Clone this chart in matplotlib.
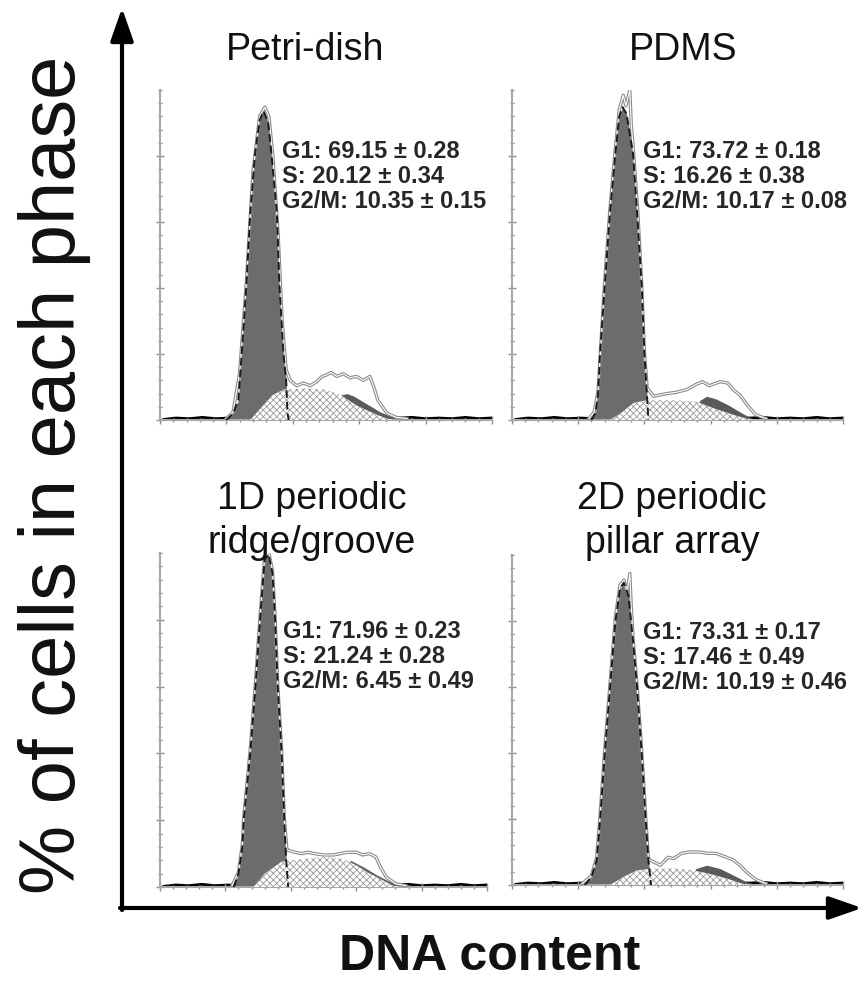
import numpy as np
import matplotlib
matplotlib.use('Agg')
import matplotlib.pyplot as plt

plt.rcParams['font.family'] = ['Liberation Sans', 'DejaVu Sans']
plt.rcParams['hatch.linewidth'] = 0.6

W, H = 864, 991

titles = ['Petri-dish', 'PDMS', '1D periodic\nridge/groove', '2D periodic\npillar array']
g1_txt = ['69.15', '73.72', '71.96', '73.31']
g1_err = ['0.28', '0.18', '0.23', '0.17']
s_txt = ['20.12', '16.26', '21.24', '17.46']
s_err = ['0.34', '0.38', '0.28', '0.49']
g2_txt = ['10.35', '10.17', '6.45', '10.19']
g2_err = ['0.15', '0.08', '0.49', '0.46']

# G1 peak (dark fill), one list per panel
g1_x = [
    [50, 55, 59, 61.5, 65, 68, 71.5, 75, 78, 81.5, 84, 88, 90, 93, 95, 96, 97],
    [60, 63, 65, 66.5, 70, 74, 78, 81, 83.5, 86.5, 91.5, 94.5, 98, 100, 102, 103],
    [56.5, 60, 63, 64, 69, 73, 76.5, 80, 83, 86, 88, 90, 93, 95, 96.5, 98],
    [55, 60, 64, 66.5, 70, 74, 78, 81.5, 84.5, 88, 91.5, 94.5, 98, 101, 103, 105],
]
g1_y = [
    [0, 5, 15, 50, 101, 157, 201, 227, 234, 225, 201, 157, 101, 50, 30, 5, 0],
    [0, 5, 20, 50, 101, 157, 201, 230, 237, 232, 201, 157, 101, 50, 18, 0],
    [0, 10, 30, 50, 100, 150, 200, 245, 249, 235, 200, 150, 100, 50, 20, 0],
    [0, 6, 19, 49, 99, 149, 199, 224, 229, 219, 184, 149, 99, 49, 19, 0],
]

# S phase (hatched)
s_x = [
    [68, 75, 85, 93, 110, 125, 136, 148, 161, 171, 176],
    [74, 82, 92, 102, 122, 139, 152, 167, 177, 182],
    [71.5, 80, 93, 110, 125, 140.5, 150.5, 160.5, 170.5, 178, 183],
    [74, 84, 94, 107, 124, 137, 147, 162, 174, 179.5],
]
s_y = [
    [0, 8, 19, 23, 24, 23, 19, 11, 5, 1, 0],
    [0, 5, 13, 15, 15, 14, 9, 4, 1, 0],
    [0, 10, 19, 21, 22.5, 21, 16, 10, 5, 1, 0],
    [0, 6, 11, 12.5, 12.5, 11, 9, 5, 1, 0],
]

# G2/M peak (dark fill, mostly behind S)
g2_x = [
    [128, 136, 141, 146, 151, 156, 161, 166, 171, 176, 181],
    [133, 142, 147, 154, 164, 174, 182, 187],
    [138, 145.5, 155.6, 165.7, 175.7, 183, 188],
    [132, 139, 147, 157, 167, 177, 184.5],
]
g2_y = [
    [0, 19, 20, 18, 15, 12, 9, 6, 4, 2, 0],
    [0, 15, 18, 16, 11, 5, 1, 0],
    [0, 20, 15, 9, 4, 1, 0],
    [0, 12.5, 15, 12.5, 7.5, 2.5, 0],
]

# raw histogram outline
raw_x = [
    [50, 55, 60, 65, 70, 75, 79, 82, 85, 89, 92, 95, 98, 103, 108, 113, 118, 122, 125, 129,
     133, 138, 143, 148, 153, 158, 161, 164, 171, 178, 186],
    [58, 62, 65, 67, 70, 74, 78, 81, 84, 86, 89, 90, 92, 95, 98, 100, 102, 103, 107, 112,
     117, 124, 132, 139, 144, 149, 157, 163, 167, 172, 178, 184, 192],
    [55, 60, 63, 64, 69, 73, 76.5, 80, 83, 86, 88, 90, 93, 95, 97, 98, 103, 108, 113, 118,
     125, 133, 138, 143, 150, 155, 160, 165, 169, 173, 180, 188],
    [53, 60, 64, 66.5, 70, 74, 78, 81.5, 84.5, 87, 89, 90, 91.5, 94.5, 98, 101, 103, 104,
     112, 118, 122, 128, 134, 142, 147, 154, 162, 167, 172, 178, 184.5, 192],
]
raw_y = [
    [1, 6, 36, 104, 188, 230, 237, 230, 200, 140, 75, 38, 30, 26, 28, 26, 29, 33, 34, 36,
     33, 35, 32, 33, 30, 33, 25, 15, 5, 2, 1],
    [1, 6, 22, 55, 105, 160, 205, 235, 246, 238, 250, 225, 200, 158, 102, 52, 25, 23, 18, 19,
     20, 21, 23, 27, 29, 26, 29, 28, 23, 19, 11, 4, 1],
    [1, 11, 32, 52, 103, 153, 203, 247, 251, 237, 202, 152, 102, 52, 28, 27.5, 26, 25, 26, 25,
     24, 24, 25, 26, 26, 24, 25, 22.5, 14, 7.5, 2.5, 1],
    [1, 7, 21, 52, 102, 152, 202, 227, 231, 222, 236, 212, 186, 151, 101, 51, 21, 19,
     15, 21, 20, 24, 25, 25, 24, 24, 21, 19, 15, 9, 4, 1],
]

# black baseline noise
base_x = [3, 12, 22, 32, 42, 52, 62, 180, 190, 200, 210, 220, 230, 240, 249]
base_y = [0.5, 1.5, 1, 2, 1, 1.5, 1, 1.5, 2, 1, 1.5, 1, 2, 1, 1.5]

# panel boxes in pixels: left, right, baseline, top
boxes = [(160, 492, 420, 90), (512, 843, 420, 90),
         (160, 487, 887, 553), (512, 843, 885, 555)]
title_pos = [(305, 50), (683, 50), (312, 521), (672, 521)]
ann_pos = [(282, 152), (643, 152), (283, 632), (643, 633)]

fig = plt.figure(figsize=(W / 100, H / 100), dpi=100)

for i in range(4):
    l, r, b, t = boxes[i]
    ax = fig.add_axes([l / W, 1 - b / H, (r - l) / W, (b - t) / H])
    ax.set_xlim(0, 250)
    ax.set_ylim(0, 250)
    ax.patch.set_alpha(0)

    ax.plot(base_x, base_y, color='black', lw=2, zorder=1)
    ax.fill_between(g1_x[i], g1_y[i], 0, color='#6c6c6c', lw=0, zorder=2)
    ax.fill_between(g2_x[i], g2_y[i], 0, color='#5a5a5a', lw=0, zorder=2)
    ax.fill_between(s_x[i], s_y[i], 0, facecolor='white', edgecolor='#9a9a9a',
                    hatch='xxxxx', lw=0, zorder=3)
    ax.plot(raw_x[i], raw_y[i], color='#8a8a8a', lw=2.4, zorder=4)
    ax.plot(raw_x[i], raw_y[i], color='white', lw=0.8, zorder=5)
    ax.plot(g1_x[i], g1_y[i], color='#1a1a1a', lw=1.4, ls=(0, (4, 2)), zorder=6)

    for side in ['top', 'right']:
        ax.spines[side].set_visible(False)
    for side in ['left', 'bottom']:
        ax.spines[side].set_color('#a8a8a8')
        ax.spines[side].set_linewidth(1.5)
    ax.set_xticks(np.arange(0, 251, 50))
    ax.set_xticks(np.arange(0, 251, 10), minor=True)
    ax.set_yticks(np.arange(0, 201, 50))
    ax.set_yticks(np.arange(0, 251, 10), minor=True)
    ax.tick_params(which='major', direction='inout', length=6, width=1, color='#909090',
                   labelleft=False, labelbottom=False)
    ax.tick_params(which='minor', direction='inout', length=3.5, width=1, color='#909090')

    tx, ty = title_pos[i]
    fig.text(tx / W, 1 - ty / H, titles[i], fontsize=27, ha='center', va='center',
             linespacing=1.3, color='#111111')

    ax_, ay_ = ann_pos[i]
    ann = ('G1: %s \u00b1 %s\nS: %s \u00b1 %s\nG2/M: %s \u00b1 %s'
           % (g1_txt[i], g1_err[i], s_txt[i], s_err[i], g2_txt[i], g2_err[i]))
    fig.text(ax_ / W, 1 - (ay_ - 12) / H, ann, fontsize=17, fontweight='bold',
             ha='left', va='top', linespacing=1.12, color='#262626')

# big outer arrows
ov = fig.add_axes([0, 0, 1, 1])
ov.set_xlim(0, W)
ov.set_ylim(H, 0)
ov.axis('off')
ov.patch.set_alpha(0)
arrow = dict(arrowstyle='-|>,head_length=1.0,head_width=0.35', lw=3, color='black',
             mutation_scale=20, shrinkA=0, shrinkB=0)
ov.annotate('', xy=(122, 8), xytext=(122, 910), arrowprops=arrow)
ov.annotate('', xy=(862, 908), xytext=(120, 908), arrowprops=arrow)

fig.text(55 / W, 1 - 475 / H, '% of cells in each phase', fontsize=56, rotation=90,
         ha='center', va='center', color='#111111')
fig.text(490 / W, 1 - 957 / H, 'DNA content', fontsize=36, fontweight='bold',
         ha='center', va='center', color='#111111')

fig.savefig('out.png', dpi=100)
